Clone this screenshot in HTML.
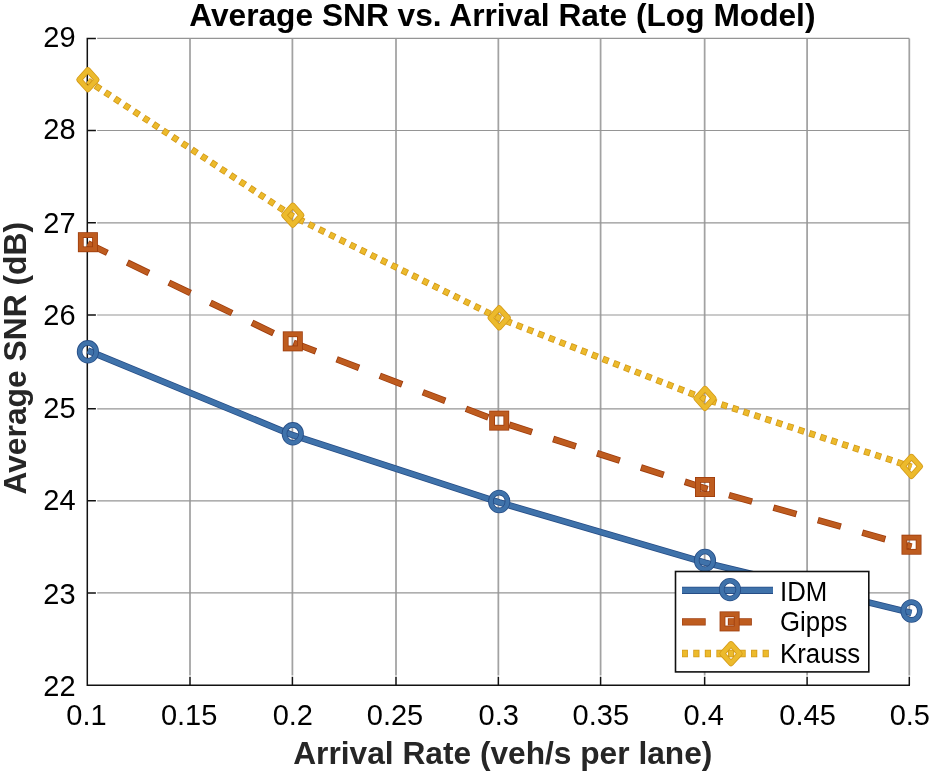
<!DOCTYPE html>
<html><head><meta charset="utf-8"><title>Average SNR vs. Arrival Rate (Log Model)</title><style>
html,body{margin:0;padding:0;background:#fff;width:931px;height:774px;overflow:hidden;font-family:"Liberation Sans", sans-serif;}
svg{display:block;position:absolute;left:0;top:0;will-change:transform;}
</style></head><body>
<svg width="931" height="774" viewBox="0 0 931 774">
<rect x="0" y="0" width="931" height="774" fill="#fff"/>
<path d="M190.0,38.4V675.40M292.4,38.4V675.40M396.0,38.4V675.40M498.35,38.4V675.40M600.6,38.4V675.40M704.65,38.4V675.40M807.1,38.4V675.40M909.3,38.4V675.40" stroke="#a2a2a2" stroke-width="1.75" fill="none"/>
<path d="M97.20,38.4H909.3M97.20,130.5H909.3M97.20,222.85H909.3M97.20,315.0H909.3M97.20,408.8H909.3M97.20,500.85H909.3M97.20,592.9H909.3" stroke="#959595" stroke-width="1.2" fill="none"/>
<path d="M87.3,37.70V685.3H910.00M190.0,685.3V676.70M292.4,685.3V676.70M396.0,685.3V676.70M498.35,685.3V676.70M600.6,685.3V676.70M704.65,685.3V676.70M807.1,685.3V676.70M909.3,685.3V676.70M87.3,38.4H95.90M87.3,130.5H95.90M87.3,222.85H95.90M87.3,315.0H95.90M87.3,408.8H95.90M87.3,500.85H95.90M87.3,592.9H95.90" stroke="#111" stroke-width="1.5" fill="none" stroke-linecap="butt" stroke-linejoin="miter"/>
<polyline points="87.90,80.80 292.80,216.30 499.20,318.20 705.00,399.00 911.50,466.80" fill="none" stroke="#d49a18" stroke-width="6.60" stroke-linejoin="round" stroke-dasharray="6.20 5.36" stroke-dashoffset="2.50"/>
<polyline points="87.90,80.80 292.80,216.30 499.20,318.20 705.00,399.00 911.50,466.80" fill="none" stroke="#ecba2c" stroke-width="5.00" stroke-linejoin="round" stroke-dasharray="4.60 6.96" stroke-dashoffset="1.70"/>
<polyline points="87.90,243.50 292.80,342.50 499.20,421.50 705.00,488.30 911.50,546.60" fill="none" stroke="#9e3c0c" stroke-width="6.60" stroke-linejoin="round" stroke-dasharray="24.00 22.15" stroke-dashoffset="2.40"/>
<polyline points="87.90,243.50 292.80,342.50 499.20,421.50 705.00,488.30 911.50,546.60" fill="none" stroke="#be5c1f" stroke-width="5.00" stroke-linejoin="round" stroke-dasharray="22.40 23.75" stroke-dashoffset="1.60"/>
<polyline points="87.90,350.60 292.80,435.20 499.20,502.40 705.00,562.60 911.50,612.90" fill="none" stroke="#264d86" stroke-width="6.60" stroke-linejoin="round"/>
<polyline points="87.90,350.60 292.80,435.20 499.20,502.40 705.00,562.60 911.50,612.90" fill="none" stroke="#3f72aa" stroke-width="5.00" stroke-linejoin="round"/>
<path d="M87.90,70.00 L96.60,79.70 L87.90,89.40 L79.20,79.70 Z" fill="none" stroke="#d49a18" stroke-width="5.80" stroke-linejoin="round"/>
<path d="M87.90,70.00 L96.60,79.70 L87.90,89.40 L79.20,79.70 Z" fill="none" stroke="#ecba2c" stroke-width="4.20" stroke-linejoin="round"/>
<path d="M292.80,205.50 L301.50,215.20 L292.80,224.90 L284.10,215.20 Z" fill="none" stroke="#d49a18" stroke-width="5.80" stroke-linejoin="round"/>
<path d="M292.80,205.50 L301.50,215.20 L292.80,224.90 L284.10,215.20 Z" fill="none" stroke="#ecba2c" stroke-width="4.20" stroke-linejoin="round"/>
<path d="M499.20,308.10 L507.90,317.80 L499.20,327.50 L490.50,317.80 Z" fill="none" stroke="#d49a18" stroke-width="5.80" stroke-linejoin="round"/>
<path d="M499.20,308.10 L507.90,317.80 L499.20,327.50 L490.50,317.80 Z" fill="none" stroke="#ecba2c" stroke-width="4.20" stroke-linejoin="round"/>
<path d="M705.00,388.70 L713.70,398.40 L705.00,408.10 L696.30,398.40 Z" fill="none" stroke="#d49a18" stroke-width="5.80" stroke-linejoin="round"/>
<path d="M705.00,388.70 L713.70,398.40 L705.00,408.10 L696.30,398.40 Z" fill="none" stroke="#ecba2c" stroke-width="4.20" stroke-linejoin="round"/>
<path d="M911.50,456.70 L920.20,466.40 L911.50,476.10 L902.80,466.40 Z" fill="none" stroke="#d49a18" stroke-width="5.80" stroke-linejoin="round"/>
<path d="M911.50,456.70 L920.20,466.40 L911.50,476.10 L902.80,466.40 Z" fill="none" stroke="#ecba2c" stroke-width="4.20" stroke-linejoin="round"/>
<rect x="80.80" y="235.10" width="14.20" height="14.20" fill="none" stroke="#9e3c0c" stroke-width="5.80"/>
<rect x="80.80" y="235.10" width="14.20" height="14.20" fill="none" stroke="#be5c1f" stroke-width="4.20"/>
<rect x="285.70" y="334.25" width="14.20" height="14.20" fill="none" stroke="#9e3c0c" stroke-width="5.80"/>
<rect x="285.70" y="334.25" width="14.20" height="14.20" fill="none" stroke="#be5c1f" stroke-width="4.20"/>
<rect x="492.10" y="413.50" width="14.20" height="14.20" fill="none" stroke="#9e3c0c" stroke-width="5.80"/>
<rect x="492.10" y="413.50" width="14.20" height="14.20" fill="none" stroke="#be5c1f" stroke-width="4.20"/>
<rect x="697.90" y="479.90" width="14.20" height="14.20" fill="none" stroke="#9e3c0c" stroke-width="5.80"/>
<rect x="697.90" y="479.90" width="14.20" height="14.20" fill="none" stroke="#be5c1f" stroke-width="4.20"/>
<rect x="904.40" y="537.60" width="14.20" height="14.20" fill="none" stroke="#9e3c0c" stroke-width="5.80"/>
<rect x="904.40" y="537.60" width="14.20" height="14.20" fill="none" stroke="#be5c1f" stroke-width="4.20"/>
<ellipse cx="87.9" cy="351.8" rx="8.3" ry="8.9" fill="none" stroke="#264d86" stroke-width="5.60"/>
<ellipse cx="87.9" cy="351.8" rx="8.3" ry="8.9" fill="none" stroke="#3f72aa" stroke-width="4.00"/>
<ellipse cx="292.8" cy="433.8" rx="8.3" ry="8.9" fill="none" stroke="#264d86" stroke-width="5.60"/>
<ellipse cx="292.8" cy="433.8" rx="8.3" ry="8.9" fill="none" stroke="#3f72aa" stroke-width="4.00"/>
<ellipse cx="499.2" cy="501.5" rx="8.3" ry="8.9" fill="none" stroke="#264d86" stroke-width="5.60"/>
<ellipse cx="499.2" cy="501.5" rx="8.3" ry="8.9" fill="none" stroke="#3f72aa" stroke-width="4.00"/>
<ellipse cx="705.0" cy="560.4" rx="8.3" ry="8.9" fill="none" stroke="#264d86" stroke-width="5.60"/>
<ellipse cx="705.0" cy="560.4" rx="8.3" ry="8.9" fill="none" stroke="#3f72aa" stroke-width="4.00"/>
<ellipse cx="911.5" cy="611.0" rx="8.3" ry="8.9" fill="none" stroke="#264d86" stroke-width="5.60"/>
<ellipse cx="911.5" cy="611.0" rx="8.3" ry="8.9" fill="none" stroke="#3f72aa" stroke-width="4.00"/>
<rect x="675.5" y="571.5" width="193.30" height="100.40" fill="#fff" stroke="#111" stroke-width="1.6"/>
<path d="M682,590.3H773" fill="none" stroke="#264d86" stroke-width="7.20"/>
<path d="M682,590.3H773" fill="none" stroke="#3f72aa" stroke-width="5.60"/>
<ellipse cx="730" cy="589.6" rx="8.3" ry="8.9" fill="none" stroke="#264d86" stroke-width="5.60"/>
<ellipse cx="730" cy="589.6" rx="8.3" ry="8.9" fill="none" stroke="#3f72aa" stroke-width="4.00"/>
<path d="M682,621.9H773" fill="none" stroke="#9e3c0c" stroke-width="7.20" stroke-dasharray="24.00 22.15" stroke-dashoffset="0.30"/>
<path d="M682,621.9H773" fill="none" stroke="#be5c1f" stroke-width="5.60" stroke-dasharray="22.40 23.75" stroke-dashoffset="-0.50"/>
<rect x="722.50" y="614.30" width="14.20" height="14.20" fill="none" stroke="#9e3c0c" stroke-width="5.80"/>
<rect x="722.50" y="614.30" width="14.20" height="14.20" fill="none" stroke="#be5c1f" stroke-width="4.20"/>
<path d="M682,653.5H770" fill="none" stroke="#d49a18" stroke-width="7.40" stroke-dasharray="6.20 5.36" stroke-dashoffset="0.30"/>
<path d="M682,653.5H770" fill="none" stroke="#ecba2c" stroke-width="5.80" stroke-dasharray="4.60 6.96" stroke-dashoffset="-0.50"/>
<path d="M731.00,644.00 L739.70,653.70 L731.00,663.40 L722.30,653.70 Z" fill="none" stroke="#d49a18" stroke-width="5.80" stroke-linejoin="round"/>
<path d="M731.00,644.00 L739.70,653.70 L731.00,663.40 L722.30,653.70 Z" fill="none" stroke="#ecba2c" stroke-width="4.20" stroke-linejoin="round"/>
<text x="189.2" y="25.8" font-family='"Liberation Sans", sans-serif' font-weight="bold" font-size="31.7" fill="#000">Average SNR vs. Arrival Rate (Log Model)</text>
<text x="75.6" y="47.4" text-anchor="end" font-family='"Liberation Sans", sans-serif' font-size="29" fill="#000">29</text>
<text x="75.6" y="139.3" text-anchor="end" font-family='"Liberation Sans", sans-serif' font-size="29" fill="#000">28</text>
<text x="75.6" y="232.9" text-anchor="end" font-family='"Liberation Sans", sans-serif' font-size="29" fill="#000">27</text>
<text x="75.6" y="324.8" text-anchor="end" font-family='"Liberation Sans", sans-serif' font-size="29" fill="#000">26</text>
<text x="75.6" y="417.7" text-anchor="end" font-family='"Liberation Sans", sans-serif' font-size="29" fill="#000">25</text>
<text x="75.6" y="509.7" text-anchor="end" font-family='"Liberation Sans", sans-serif' font-size="29" fill="#000">24</text>
<text x="75.6" y="603.5" text-anchor="end" font-family='"Liberation Sans", sans-serif' font-size="29" fill="#000">23</text>
<text x="75.6" y="696.3" text-anchor="end" font-family='"Liberation Sans", sans-serif' font-size="29" fill="#000">22</text>
<text x="86.45" y="725" text-anchor="middle" font-family='"Liberation Sans", sans-serif' font-size="29" fill="#000">0.1</text>
<text x="189.15" y="725" text-anchor="middle" font-family='"Liberation Sans", sans-serif' font-size="29" fill="#000">0.15</text>
<text x="292.80" y="725" text-anchor="middle" font-family='"Liberation Sans", sans-serif' font-size="29" fill="#000">0.2</text>
<text x="395.00" y="725" text-anchor="middle" font-family='"Liberation Sans", sans-serif' font-size="29" fill="#000">0.25</text>
<text x="498.70" y="725" text-anchor="middle" font-family='"Liberation Sans", sans-serif' font-size="29" fill="#000">0.3</text>
<text x="600.80" y="725" text-anchor="middle" font-family='"Liberation Sans", sans-serif' font-size="29" fill="#000">0.35</text>
<text x="703.75" y="725" text-anchor="middle" font-family='"Liberation Sans", sans-serif' font-size="29" fill="#000">0.4</text>
<text x="807.55" y="725" text-anchor="middle" font-family='"Liberation Sans", sans-serif' font-size="29" fill="#000">0.45</text>
<text x="909.80" y="725" text-anchor="middle" font-family='"Liberation Sans", sans-serif' font-size="29" fill="#000">0.5</text>
<text x="293.2" y="763.7" font-family='"Liberation Sans", sans-serif' font-weight="bold" font-size="31.7" fill="#262626">Arrival Rate (veh/s per lane)</text>
<text transform="translate(26,494.6) rotate(-90)" x="0" y="0" font-family='"Liberation Sans", sans-serif' font-weight="bold" font-size="31.8" fill="#262626">Average SNR (dB)</text>
<text transform="translate(780,600.9) scale(1,1.045)" x="0" y="0" font-family='"Liberation Sans", sans-serif' font-size="25.8" fill="#000">IDM</text>
<text transform="translate(780,630.8) scale(1,1.045)" x="0" y="0" font-family='"Liberation Sans", sans-serif' font-size="25.8" fill="#000">Gipps</text>
<text transform="translate(780,663.1) scale(1,1.045)" x="0" y="0" font-family='"Liberation Sans", sans-serif' font-size="25.8" fill="#000">Krauss</text>
</svg>
</body></html>
